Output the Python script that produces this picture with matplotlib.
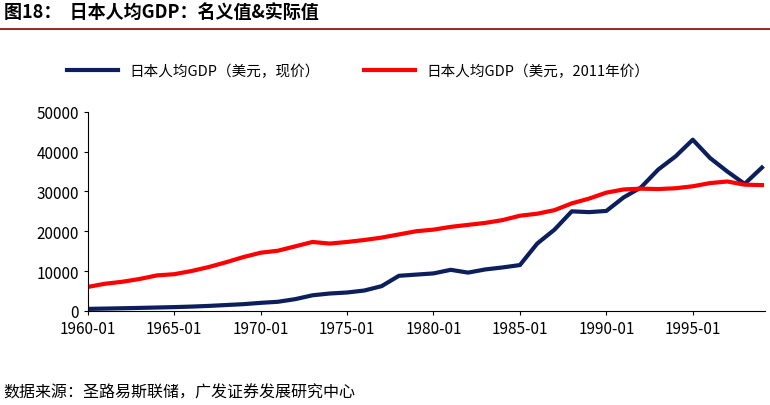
import numpy as np
import matplotlib.pyplot as plt

plt.rcParams['font.family'] = ['Noto Sans CJK SC', 'DejaVu Sans']

years = np.arange(1960, 2000)
nominal = [480, 560, 640, 730, 830, 930, 1060, 1230, 1450, 1670,
           2000, 2270, 2930, 3900, 4350, 4600, 5100, 6200, 8800, 9100,
           9400, 10300, 9600, 10400, 10900, 11500, 16900, 20400, 25000, 24800,
           25100, 28500, 31000, 35500, 38800, 43000, 38400, 35000, 31900, 36000]
real = [6000, 6800, 7300, 8000, 8900, 9200, 10000, 11000, 12200, 13500,
        14600, 15100, 16200, 17300, 16900, 17300, 17800, 18400, 19200, 20000,
        20400, 21100, 21600, 22100, 22800, 23900, 24400, 25300, 27000, 28200,
        29700, 30500, 30700, 30600, 30800, 31300, 32100, 32500, 31700, 31600]
tick_years = [1960, 1965, 1970, 1975, 1980, 1985, 1990, 1995]
tick_labels = [f"{y}-01" for y in tick_years]

fig = plt.figure(figsize=(7.7, 4.06), dpi=100)
ax = fig.add_axes([0.114, 0.232, 0.88, 0.49])
ax.plot(years, nominal, color='#0c1f5c', lw=3, label='日本人均GDP（美元，现价）')
ax.plot(years, real, color='#ff0000', lw=3, label='日本人均GDP（美元，2011年价）')
ax.set_xlim(1960, 1999.2)
ax.set_ylim(0, 50000)
ax.set_yticks(range(0, 50001, 10000))
ax.set_xticks(tick_years)
ax.set_xticklabels(tick_labels)
ax.tick_params(labelsize=11, length=3, direction='out')
for s in ['top', 'right']:
    ax.spines[s].set_visible(False)
ax.legend(loc='center left', bbox_to_anchor=(-0.05, 1.205), ncol=2, frameon=False,
          fontsize=10.5, handlelength=3.5, columnspacing=3)

fig.text(0.005, 0.955, '图18：  日本人均GDP：名义值&实际值', fontsize=13, weight='bold')
fig.add_artist(plt.Line2D([0, 1], [0.925, 0.925], color='#8b0000', lw=1.2))
fig.text(0.005, 0.02, '数据来源：圣路易斯联储，广发证券发展研究中心', fontsize=11.5)
fig.savefig('out.png', dpi=100)
